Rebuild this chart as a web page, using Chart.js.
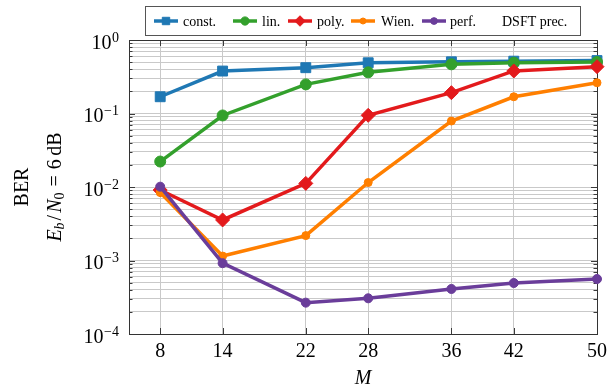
<!DOCTYPE html>
<html><head><meta charset="utf-8">
<script src="https://cdn.jsdelivr.net/npm/chart.js@4/dist/chart.umd.min.js"></script>
<style>html,body{margin:0;padding:0;background:#fff}#wrap{width:608px;height:388px}</style>
</head><body><div id="wrap"><canvas id="c" width="608" height="388"></canvas></div>
<script>
// ---- data ----
const M = [8, 14, 22, 28, 36, 42, 50];
const constBER = [0.169, 0.378, 0.42, 0.49, 0.505, 0.515, 0.525];
const linBER   = [0.0222, 0.094, 0.249, 0.363, 0.467, 0.491, 0.502];
const polyBER  = [0.0091, 0.00356, 0.0112, 0.0945, 0.192, 0.379, 0.434];
const wienBER  = [0.0084, 0.00115, 0.00218, 0.0115, 0.079, 0.169, 0.262];
const perfBER  = [0.0101, 0.00092, 0.000267, 0.000306, 0.00041, 0.000494, 0.00056];
const xTicks = [8, 14, 22, 28, 36, 42, 50];
const yExponents = [-4, -3, -2, -1, 0];
const legendLabels = ['const.', 'lin.', 'poly.', 'Wien.', 'perf.'];
const legendTitle = 'DSFT prec.';

// ---- styles ----
const FONT = '"Liberation Serif", "Times New Roman", serif';
const colors = ['#1f78b4', '#33a02c', '#e31a1c', '#ff7f00', '#6a3d9a'];
const pStyles = [
  {ps: 'rect', r: 7}, {ps: 'circle', r: 5.5}, {ps: 'rectRot', r: 7},
  {ps: 'circle', r: 4}, {ps: 'circle', r: 4.5}
];
const series = [constBER, linBER, polyBER, wienBER, perfBER];

const datasets = series.map((d, i) => ({
  label: legendLabels[i],
  data: M.map((m, j) => ({x: m, y: d[j]})),
  borderColor: colors[i], backgroundColor: colors[i],
  borderWidth: 3.5, tension: 0, clip: false,
  pointStyle: pStyles[i].ps, pointRadius: pStyles[i].r,
  pointBorderWidth: 1, pointBackgroundColor: colors[i], pointBorderColor: colors[i],
  order: 5 - i
}));

const gridColor = '#c9c9c9';

const decor = {
  id: 'decor',
  beforeDatasetsDraw(chart) {
    const {ctx, chartArea: a, scales: {x, y}} = chart;
    ctx.save();
    ctx.strokeStyle = '#3a3a3a';
    ctx.lineWidth = 1;
    // tick marks inside
    ctx.beginPath();
    y.ticks.forEach(t => {
      const py = Math.round(y.getPixelForValue(t.value)) + 0.5;
      const major = Math.abs(Math.log10(t.value) - Math.round(Math.log10(t.value))) < 1e-9;
      const L = major ? 6 : 3.5;
      ctx.moveTo(a.left, py); ctx.lineTo(a.left + L, py);
      ctx.moveTo(a.right, py); ctx.lineTo(a.right - L, py);
    });
    xTicks.forEach(v => {
      const px = Math.round(x.getPixelForValue(v)) + 0.5;
      ctx.moveTo(px, a.bottom); ctx.lineTo(px, a.bottom - 6);
      ctx.moveTo(px, a.top); ctx.lineTo(px, a.top + 6);
    });
    ctx.stroke();
    // frame
    ctx.strokeStyle = '#333';
    ctx.strokeRect(Math.round(a.left) + 0.5, Math.round(a.top) + 0.5,
      Math.round(a.right) - Math.round(a.left), Math.round(a.bottom) - Math.round(a.top));
    ctx.restore();
  },
  afterDraw(chart) {
    const {ctx, chartArea: a, scales: {x, y}} = chart;
    ctx.save();
    ctx.fillStyle = '#000';
    // y tick labels 10^e
    const rightEdge = 119;
    yExponents.forEach(e => {
      const py = y.getPixelForValue(Math.pow(10, e));
      const expTxt = e < 0 ? '\u2212' + (-e) : String(e);
      ctx.font = '14px ' + FONT;
      const ew = ctx.measureText(expTxt).width;
      ctx.textAlign = 'left'; ctx.textBaseline = 'alphabetic';
      ctx.fillText(expTxt, rightEdge - ew, py + 1.5);
      ctx.font = '20px ' + FONT;
      ctx.textAlign = 'right';
      ctx.fillText('10', rightEdge - ew - 0.5, py + 8.5);
    });
    // x tick labels
    ctx.font = '20px ' + FONT;
    ctx.textAlign = 'center';
    xTicks.forEach(v => ctx.fillText(String(v), x.getPixelForValue(v), 356.5));
    // x title
    ctx.font = 'italic 20px ' + FONT;
    ctx.fillText('M', (a.left + a.right) / 2, 384);
    // y titles (rotated)
    const cy = (a.top + a.bottom) / 2;
    ctx.save();
    ctx.translate(0, cy);
    ctx.rotate(-Math.PI / 2);
    ctx.font = '20px ' + FONT;
    ctx.textAlign = 'center';
    ctx.fillText('BER', 0, 28);
    const segs = [
      {t: 'E', f: 'italic 20px ', dy: 0, g: 0},
      {t: 'b', f: 'italic 14px ', dy: 3, g: 2},
      {t: '/', f: '20px ', dy: 0, g: 2},
      {t: 'N', f: 'italic 20px ', dy: 0, g: 0},
      {t: '0', f: '14px ', dy: 3, g: 6},
      {t: '=', f: '20px ', dy: 0, g: 6},
      {t: '6', f: '20px ', dy: 0, g: 3.5},
      {t: 'dB', f: '20px ', dy: 0, g: 0}
    ];
    let total = 0;
    segs.forEach(s => { ctx.font = s.f + FONT; s.w = ctx.measureText(s.t).width; total += s.w + s.g; });
    let sx = -total / 2;
    ctx.textAlign = 'left';
    segs.forEach(s => { ctx.font = s.f + FONT; ctx.fillText(s.t, sx, 61 + s.dy); sx += s.w + s.g; });
    ctx.restore();

    // legend
    const bx = 145.5, by = 6.5, bw = 435, bh = 29;
    ctx.fillStyle = '#fff';
    ctx.fillRect(bx, by, bw, bh);
    ctx.strokeStyle = '#555';
    ctx.lineWidth = 1;
    ctx.strokeRect(bx, by, bw, bh);
    const ly = 21;
    const lineX = [154, 233, 288, 351, 422];
    const textX = [183, 262, 317, 381, 450];
    legendLabels.forEach((lab, i) => {
      ctx.strokeStyle = colors[i]; ctx.fillStyle = colors[i];
      ctx.lineWidth = 3.5;
      ctx.beginPath(); ctx.moveTo(lineX[i], ly); ctx.lineTo(lineX[i] + 24, ly); ctx.stroke();
      ctx.lineWidth = 1;
      if (Chart.helpers && Chart.helpers.drawPoint) {
        Chart.helpers.drawPoint(ctx, {pointStyle: pStyles[i].ps, radius: pStyles[i].r * 0.75, borderWidth: 1, rotation: 0}, lineX[i] + 12, ly);
      }
      ctx.fillStyle = '#000';
      ctx.font = '14px ' + FONT;
      ctx.textAlign = 'left';
      ctx.fillText(lab, textX[i], ly + 4.5);
    });
    ctx.fillText(legendTitle, 502, ly + 4.5);
    ctx.restore();
  }
};

new Chart(document.getElementById('c'), {
  type: 'line',
  data: {datasets},
  options: {
    responsive: false, animation: false, devicePixelRatio: 1,
    layout: {padding: {top: 40, right: 11, left: 0, bottom: 0}},
    plugins: {legend: {display: false}, tooltip: {enabled: false}},
    scales: {
      x: {
        type: 'linear', min: 5, max: 50,
        afterBuildTicks: s => { s.ticks = xTicks.map(v => ({value: v})); },
        afterFit: s => { s.height = 54; },
        ticks: {display: false},
        grid: {color: gridColor, lineWidth: 1, drawTicks: false},
        border: {display: true, color: '#333', width: 1}
      },
      y: {
        type: 'logarithmic', min: 1e-4, max: 1,
        afterBuildTicks: s => {
          const t = [];
          for (let e = -4; e < 0; e++) for (let m = 1; m < 10; m++) t.push({value: m * Math.pow(10, e)});
          t.push({value: 1});
          s.ticks = t;
        },
        afterFit: s => { s.width = 129; },
        ticks: {display: false},
        grid: {color: gridColor, lineWidth: 1, drawTicks: false},
        border: {display: true, color: '#333', width: 1}
      }
    }
  },
  plugins: [decor]
});
</script>
</body></html>
